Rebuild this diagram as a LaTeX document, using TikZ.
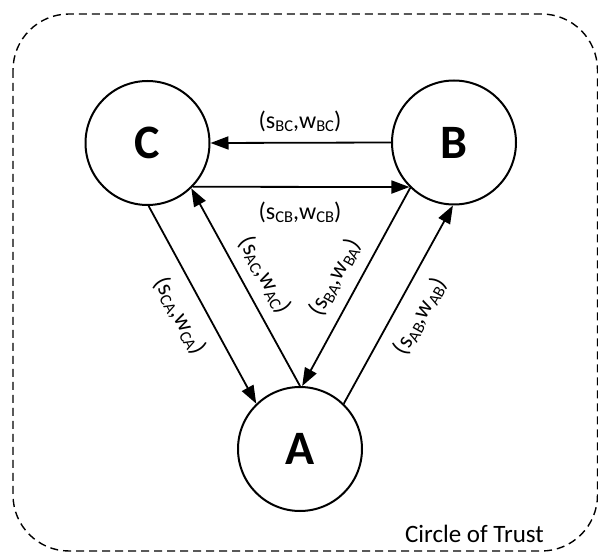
\documentclass[tikz,border=0pt]{standalone}
\usepackage{fontspec}
\setmainfont{Carlito}
\usetikzlibrary{arrows.meta}
% subscript in a lowered, smaller size
\newcommand\subidx[1]{\raisebox{-0.14em}{\fontsize{16.5}{16.5}\selectfont #1}}
\newcommand\trustpair[1]{(s\subidx{#1},w\subidx{#1})}
\begin{document}
\begin{tikzpicture}[x=1pt,y=-1pt,
  agent/.style={circle,draw,line width=2pt,minimum size=124pt,inner sep=0pt,
    font=\fontsize{48}{48}\selectfont\bfseries},
  link/.style={line width=1.8pt,-{Triangle[length=18pt,width=13pt]}},
  lbl/.style={inner sep=0pt,font=\fontsize{24}{28}\selectfont}]
\useasboundingbox (0,0) rectangle (598,556);

% dashed boundary of the trust circle
\draw[dash pattern=on 8pt off 5pt, line width=1.4pt, rounded corners=56pt]
  (13,14) rectangle (597.5,551);

% agents
\node[agent] (C) at (147.5,143) {C};
\node[agent] (B) at (454,142.5) {B};
\node[agent] (A) at (300,449) {A};

% trust links
\draw[link] (B.180) -- (C.0);
\draw[link] (C.-44) -- (B.-135.5);
\draw[link] (C.-89) -- (A.134);
\draw[link] (A.90) -- (C.-46);
\draw[link] (B.-134) -- (A.88);
\draw[link] (A.46) -- (B.-91);

% link labels
\node[lbl] (lBC) at (300,121) {\trustpair{BC}};
\node[lbl] (lCB) at (300,212) {\trustpair{CB}};
\node[lbl, rotate=-61.6] (lCA) at (180,316) {\trustpair{CA}};
\node[lbl, rotate=-61.5] (lAC) at (265,275) {\trustpair{AC}};
\node[lbl, rotate=61.3] (lBA) at (335,277) {\trustpair{BA}};
\node[lbl, rotate=61] (lAB) at (420,316) {\trustpair{AB}};

\node[inner sep=0pt, anchor=base east, font=\fontsize{25}{30}\selectfont]
  (title) at (544,542) {Circle of Trust};
\end{tikzpicture}
\end{document}
